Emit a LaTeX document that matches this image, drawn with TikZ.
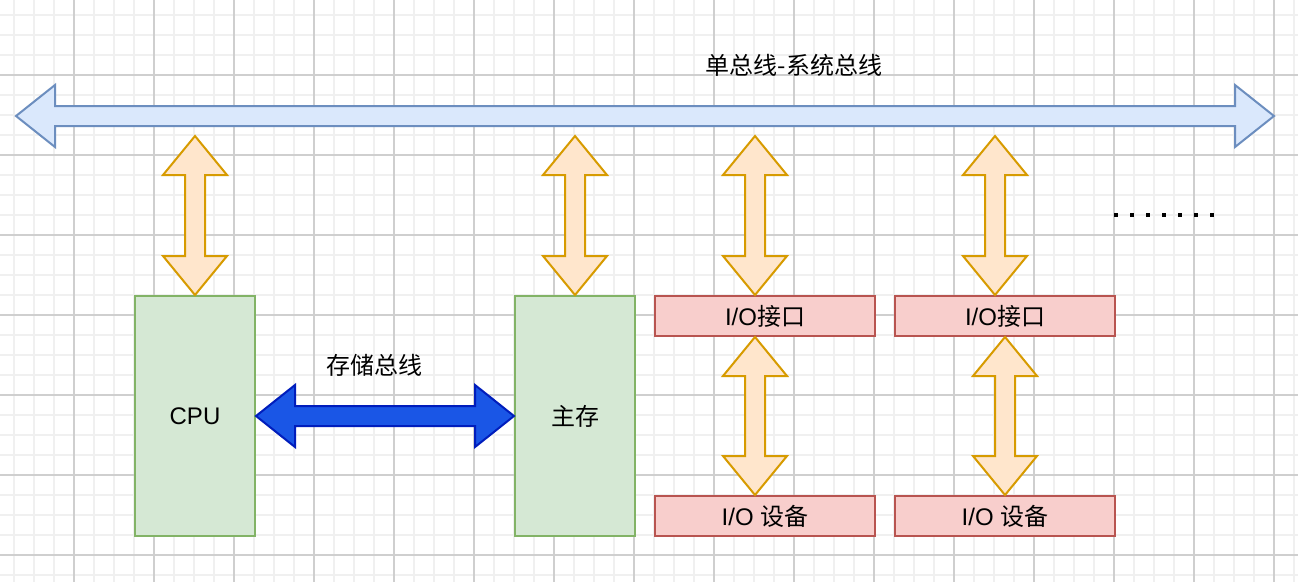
\documentclass[tikz,border=0pt]{standalone}
\usepackage{fontspec}
\setmainfont{Liberation Sans}
\newfontfamily\cjk{Noto Sans CJK SC}
\usetikzlibrary{positioning,calc}
\definecolor{busfill}{HTML}{DAE8FC}
\definecolor{busline}{HTML}{6C8EBF}
\definecolor{linkfill}{HTML}{FFE6CC}
\definecolor{linkline}{HTML}{D79B00}
\definecolor{memfill}{HTML}{1A56E6}
\definecolor{memline}{HTML}{001DBC}
\definecolor{unitfill}{HTML}{D5E8D4}
\definecolor{unitline}{HTML}{82B366}
\definecolor{iofill}{HTML}{F8CECC}
\definecolor{ioline}{HTML}{B85450}
\tikzset{
	>=latex,
}
% fat double arrows, tips at #2 and #3
\newcommand\vfat[3][]{\draw[#1] let \p1=(#2), \p2=(#3) in
	(\x1,\y1) -- (\x1+32pt,\y1-39pt) -- (\x1+10pt,\y1-39pt) -- (\x1+10pt,\y2+39pt) -- (\x1+32pt,\y2+39pt)
	-- (\x1,\y2) -- (\x1-32pt,\y2+39pt) -- (\x1-10pt,\y2+39pt) -- (\x1-10pt,\y1-39pt) -- (\x1-32pt,\y1-39pt) -- cycle;}
\newcommand\hfat[3][]{\draw[#1] let \p1=(#2), \p2=(#3) in
	(\x1,\y1) -- (\x1+39pt,\y1+31pt) -- (\x1+39pt,\y1+10pt) -- (\x2-39pt,\y1+10pt) -- (\x2-39pt,\y1+31pt)
	-- (\x2,\y1) -- (\x2-39pt,\y1-31pt) -- (\x2-39pt,\y1-10pt) -- (\x1+39pt,\y1-10pt) -- (\x1+39pt,\y1-31pt) -- cycle;}

\begin{document}
\begin{tikzpicture}[x=1pt,y=-1pt,
		font=\fontsize{24}{28}\selectfont,
		minorgrid/.style={draw=black!6, line width=1.6pt},
		majorgrid/.style={draw=black!19, line width=1.4pt},
		unit/.style={rectangle, draw=unitline, fill=unitfill, line width=2pt, minimum width=120pt, minimum height=240pt, inner sep=0pt},
		port/.style={rectangle, draw=ioline, fill=iofill, line width=2pt, minimum width=220pt, minimum height=40pt, inner sep=0pt},
		link/.style={draw=linkline, fill=linkfill, line width=2pt, line join=miter},
		sysbus/.style={draw=busline, fill=busfill, line width=2pt},
		membus/.style={draw=memline, fill=memfill, line width=2pt},
	]
		\useasboundingbox[fill=white] (0,0) rectangle (1298,582);
		% background grid
		\foreach \gx in {14,34,...,1298} \draw[minorgrid] (\gx,0) -- (\gx,582);
		\foreach \gy in {15,35,...,582} \draw[minorgrid] (0,\gy) -- (1298,\gy);
		\foreach \gx in {74,154,...,1298} \draw[majorgrid] (\gx,0) -- (\gx,582);
		\foreach \gy in {75,155,...,582} \draw[majorgrid] (0,\gy) -- (1298,\gy);

		\node(cpu)[unit] at (195,416) {CPU};
		\node(mem)[unit] at (575,416) {\cjk 主存};
		\node(if1)[port] at (765,316) {I/O{\cjk 接口}};
		\node(if2)[port] at (1005,316) {I/O{\cjk 接口}};
		\node(dev1)[port] at (765,516) {I/O {\cjk 设备}};
		\node(dev2)[port] at (1005,516) {I/O {\cjk 设备}};
		\node(title) at (794,65) {\cjk 单总线-系统总线};
		\node(memlabel) at (374,365) {\cjk 存储总线};

		\coordinate(busl) at (16,116);
		\coordinate(busr) at (1274,116);
		\coordinate(cpuup) at (195,136);
		\coordinate(memup) at (575,136);
		\coordinate(if1up) at (755,136);
		\coordinate(if2up) at (995,136);
		\coordinate(if1dn) at ([xshift=-10pt]if1.south);

		\hfat[sysbus]{busl}{busr}
		\hfat[membus]{cpu.east}{mem.west}
		\vfat[link]{cpuup}{cpu.north}
		\vfat[link]{memup}{mem.north}
		\vfat[link]{if1up}{if1.north}
		\vfat[link]{if2up}{if2.north}
		\vfat[link]{if1dn}{dev1.north}
		\vfat[link]{if2.south}{dev2.north}

		% more devices
		\foreach \d in {0,...,6} \fill (1116+16*\d,215) +(-2,-2) rectangle +(2,2);
	\end{tikzpicture}
\end{document}
